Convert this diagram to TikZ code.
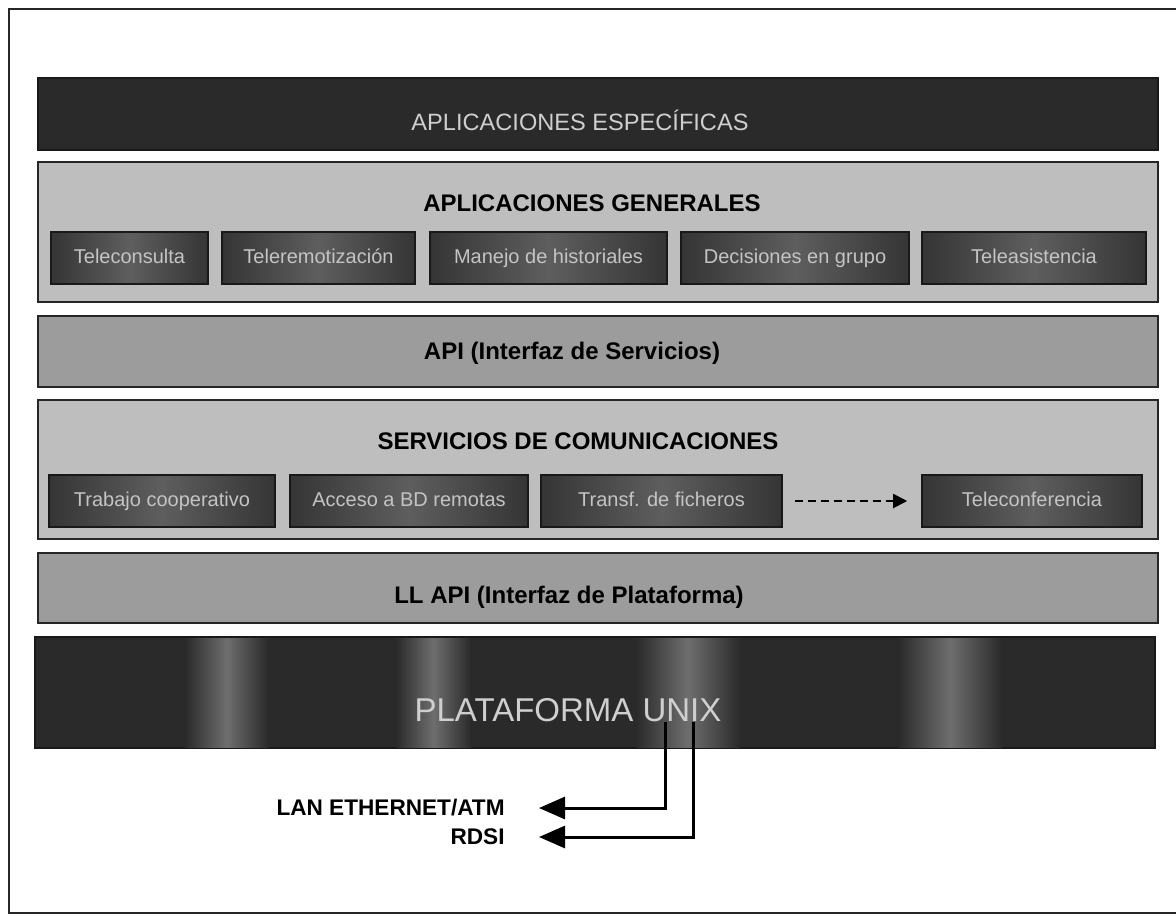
\documentclass[tikz,border=0pt]{standalone}
\usepackage{fontspec}
\setmainfont{Liberation Sans}
\usetikzlibrary{arrows.meta}
\definecolor{bandDark}{HTML}{2A2A2A}
\definecolor{bandStripe}{HTML}{6E6E6E}
\definecolor{bandLight}{HTML}{BEBEBE}
\definecolor{bandMid}{HTML}{9C9C9C}
\definecolor{subDark}{HTML}{353535}
\definecolor{subLight}{HTML}{5E5E5E}
\definecolor{subText}{HTML}{C4C4C4}
\definecolor{lightText}{HTML}{CFCFCF}
\begin{document}
\begin{tikzpicture}[x=0.5pt,y=-0.5pt,
  band/.style={draw=black!85, line width=1.2pt, inner sep=0pt, minimum width=560pt},
  darkband/.style={band, fill=bandDark, draw=black!90},
  lightband/.style={band, fill=bandLight},
  midband/.style={band, fill=bandMid},
  title/.style={inner sep=0pt, font=\bfseries\fontsize{12}{14}\selectfont},
  darktitle/.style={inner sep=0pt, text=lightText},
  subbox/.style={draw=black!90, line width=0.8pt, inner sep=0pt, minimum height=26pt,
    text height=7.3pt, text depth=2.1pt,
    shading=axis, left color=subDark, right color=subDark, middle color=subLight,
    text=subText, font=\fontsize{10}{12}\selectfont},
  stripe/.style={shading=axis, left color=bandDark, right color=bandDark, middle color=bandStripe},
  dasharrow/.style={line width=1pt, dash pattern=on 4pt off 2.5pt, -{Triangle[length=7pt,width=7pt]}},
  netarrow/.style={line width=1.5pt, -{Triangle[length=13pt,width=11pt]}},
  netlabel/.style={inner sep=0pt, anchor=east, font=\bfseries\fontsize{11.3}{13}\selectfont}
]
\useasboundingbox (0,0) rectangle (1176,915);
\fill[white] (0,0) rectangle (1176,915);
% outer frame
\draw[line width=1.4pt, black!85] (9,9) rectangle (1200,913);

% bands
\node[darkband, minimum height=36pt] (esp) at (598,114) {};
\node[darktitle, font=\fontsize{11.8}{14}\selectfont] (espT) at (580,120) {APLICACIONES ESPECÍFICAS};

\node[lightband, minimum height=70pt] (gen) at (598,232) {};
\node[title] (genT) at (592,203) {APLICACIONES GENERALES};

\node[midband, minimum height=35.5pt] (api) at (598,351.5) {};
\node[title] (apiT) at (572,353) {API (Interfaz de Servicios)};

\node[lightband, minimum height=69.5pt] (serv) at (598,469.5) {};
\node[title] (servT) at (578,441) {SERVICIOS DE COMUNICACIONES};

\node[midband, minimum height=35pt] (llapi) at (598,588) {};
\node[title] (llapiT) at (569,597) {LL API (Interfaz de Plataforma)};

\node[darkband, minimum height=55.5pt] (unix) at (595,692.5) {};
\shade[stripe] (185,638) rectangle (268,747);
\shade[stripe] (396,638) rectangle (471,747);
\shade[stripe] (636,638) rectangle (740,747);
\shade[stripe] (898,638) rectangle (1002,747);
\node[darktitle, font=\fontsize{16.5}{19}\selectfont] (unixT) at (568,710) {PLATAFORMA UNIX};

% general application boxes
\node[subbox, minimum width=78.5pt] (g1) at (129.5,258) {Teleconsulta};
\node[subbox, minimum width=96.5pt] (g2) at (318.5,258) {Teleremotización};
\node[subbox, minimum width=118.5pt] (g3) at (548.5,258) {Manejo de historiales};
\node[subbox, minimum width=114pt] (g4) at (795,258) {Decisiones en grupo};
\node[subbox, minimum width=112pt] (g5) at (1034,258) {Teleasistencia};

% communication service boxes
\node[subbox, minimum width=113pt] (s1) at (162,501) {Trabajo cooperativo};
\node[subbox, minimum width=119pt] (s2) at (409,501) {Acceso a BD remotas};
\node[subbox, minimum width=120.5pt] (s3) at (661.5,501) {Transf. de ficheros};
\node[subbox, minimum width=110pt] (s4) at (1032,501) {Teleconferencia};
\draw[dasharrow, shorten <=6pt, shorten >=7pt] (s3.east) -- (s4.west);

% network connections
\node[netlabel] (lan) at (505,808) {LAN ETHERNET/ATM};
\node[netlabel] (rdsi) at (505,837) {RDSI};
\coordinate (c1) at (665,722);
\coordinate (c2) at (693,722);
\coordinate (tipLan) at (539,808);
\coordinate (tipRdsi) at (539,837);
\draw[netarrow] (c1) |- (tipLan);
\draw[netarrow] (c2) |- (tipRdsi);
\end{tikzpicture}
\end{document}
